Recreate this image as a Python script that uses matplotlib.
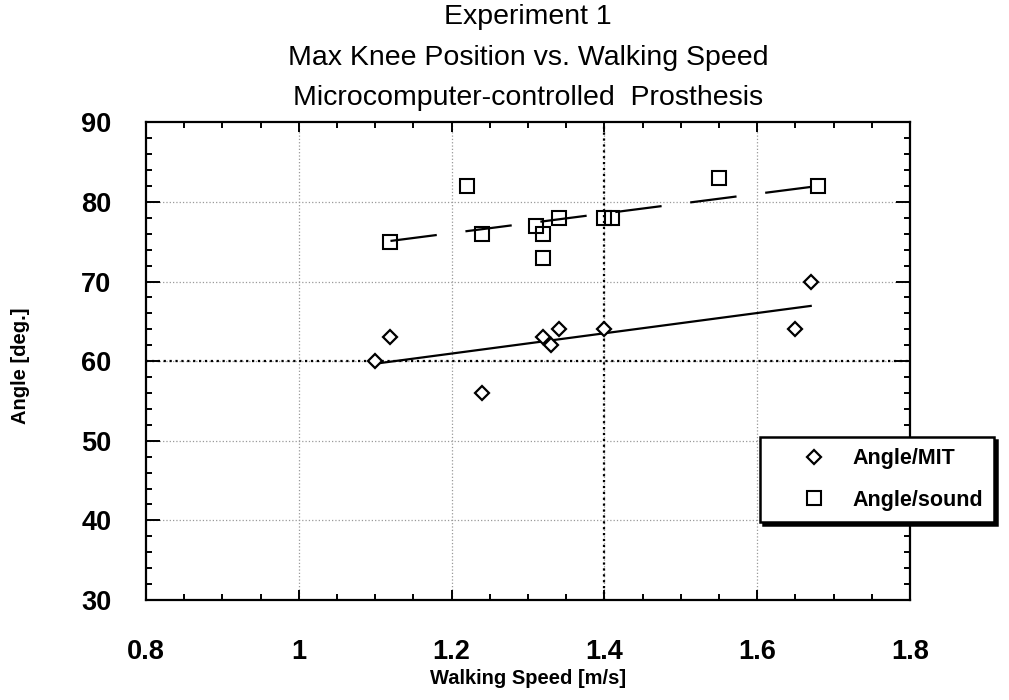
import numpy as np
import matplotlib.pyplot as plt
from matplotlib.ticker import MultipleLocator

plt.rcParams['font.family'] = ['Liberation Sans', 'DejaVu Sans']

# Angle/MIT (diamonds)
mit_speed = [1.10, 1.12, 1.24, 1.32, 1.33, 1.34, 1.40, 1.65, 1.67]
mit_angle = [60, 63, 56, 63, 62, 64, 64, 64, 70]

# Angle/sound (squares)
sound_speed = [1.12, 1.22, 1.24, 1.31, 1.32, 1.32, 1.34, 1.40, 1.41, 1.55, 1.68]
sound_angle = [75, 82, 76, 77, 76, 73, 78, 78, 78, 83, 82]

x_ticks = [0.8, 1.0, 1.2, 1.4, 1.6, 1.8]
x_labels = ["0.8", "1", "1.2", "1.4", "1.6", "1.8"]
y_ticks = [30, 40, 50, 60, 70, 80, 90]

fig = plt.figure(figsize=(10.09, 7.0), dpi=100)
ax = fig.add_axes([0.1447, 0.1429, 0.7572, 0.6824])

ax.set_xlim(0.8, 1.8)
ax.set_ylim(30, 90)

# grid
for x in x_ticks[1:-1]:
    ax.axvline(x, color='0.6', ls=':', lw=0.9, zorder=0)
for y in y_ticks[1:-1]:
    ax.axhline(y, color='0.6', ls=':', lw=0.9, zorder=0)
ax.axhline(60, color='black', ls=':', lw=1.6, zorder=1)
ax.axvline(1.4, color='black', ls=':', lw=1.6, zorder=1)

# linear fits
p = np.polyfit(mit_speed, mit_angle, 1)
xs = np.array([min(mit_speed), max(mit_speed)])
ax.plot(xs, np.polyval(p, xs), color='black', lw=1.6, zorder=2)

q = np.polyfit(sound_speed, sound_angle, 1)
xs2 = np.array([min(sound_speed), max(sound_speed)])
ax.plot(xs2, np.polyval(q, xs2), color='black', lw=1.6, dashes=(21, 13), zorder=2)

ax.plot(mit_speed, mit_angle, ls='none', marker='D', ms=7, mfc='white',
        mec='black', mew=1.6, label='Angle/MIT', zorder=3)
ax.plot(sound_speed, sound_angle, ls='none', marker='s', ms=10.5, mfc='none',
        mec='black', mew=1.5, label='Angle/sound', zorder=3)

ax.set_xticks(x_ticks)
ax.set_xticklabels(x_labels)
ax.set_yticks(y_ticks)
ax.xaxis.set_minor_locator(MultipleLocator(0.05))
ax.yaxis.set_minor_locator(MultipleLocator(2))
ax.tick_params(which='both', direction='in', top=True, right=True, width=1.4)
ax.tick_params(axis='x', which='major', length=7, pad=28, labelsize=19.5)
ax.tick_params(axis='y', which='major', length=10, pad=25, labelsize=19.5)
ax.tick_params(which='minor', length=4)
for lab in ax.get_xticklabels() + ax.get_yticklabels():
    lab.set_fontweight('bold')
for s in ax.spines.values():
    s.set_linewidth(1.6)

ax.set_xlabel('Walking Speed [m/s]', fontsize=14.5, fontweight='bold')
ax.xaxis.set_label_coords(0.5, -0.145)
ax.set_ylabel('Angle [deg.]', fontsize=14.5, fontweight='bold')
ax.yaxis.set_label_coords(-0.152, 0.49)

cx = 0.5235
fig.text(cx, 1 - 17 / 700, 'Experiment 1', ha='center', va='center', fontsize=20.5)
fig.text(cx, 1 - 58 / 700, 'Max Knee Position vs. Walking Speed', ha='center', va='center', fontsize=20.5)
fig.text(cx, 1 - 98 / 700, 'Microcomputer-controlled  Prosthesis', ha='center', va='center', fontsize=20.5)

leg = fig.legend(loc='upper left', bbox_to_anchor=(760 / 1009, 1 - 437 / 700),
                 prop={'size': 15.5, 'weight': 'bold'}, frameon=True, fancybox=False,
                 shadow={'color': 'black', 'alpha': 1}, borderpad=0.53,
                 handlelength=3.96, handletextpad=-0.21, labelspacing=0.95,
                 borderaxespad=0)
leg.get_frame().set_edgecolor('black')
leg.get_frame().set_linewidth(1.8)

fig.savefig('out.png', dpi=100)
